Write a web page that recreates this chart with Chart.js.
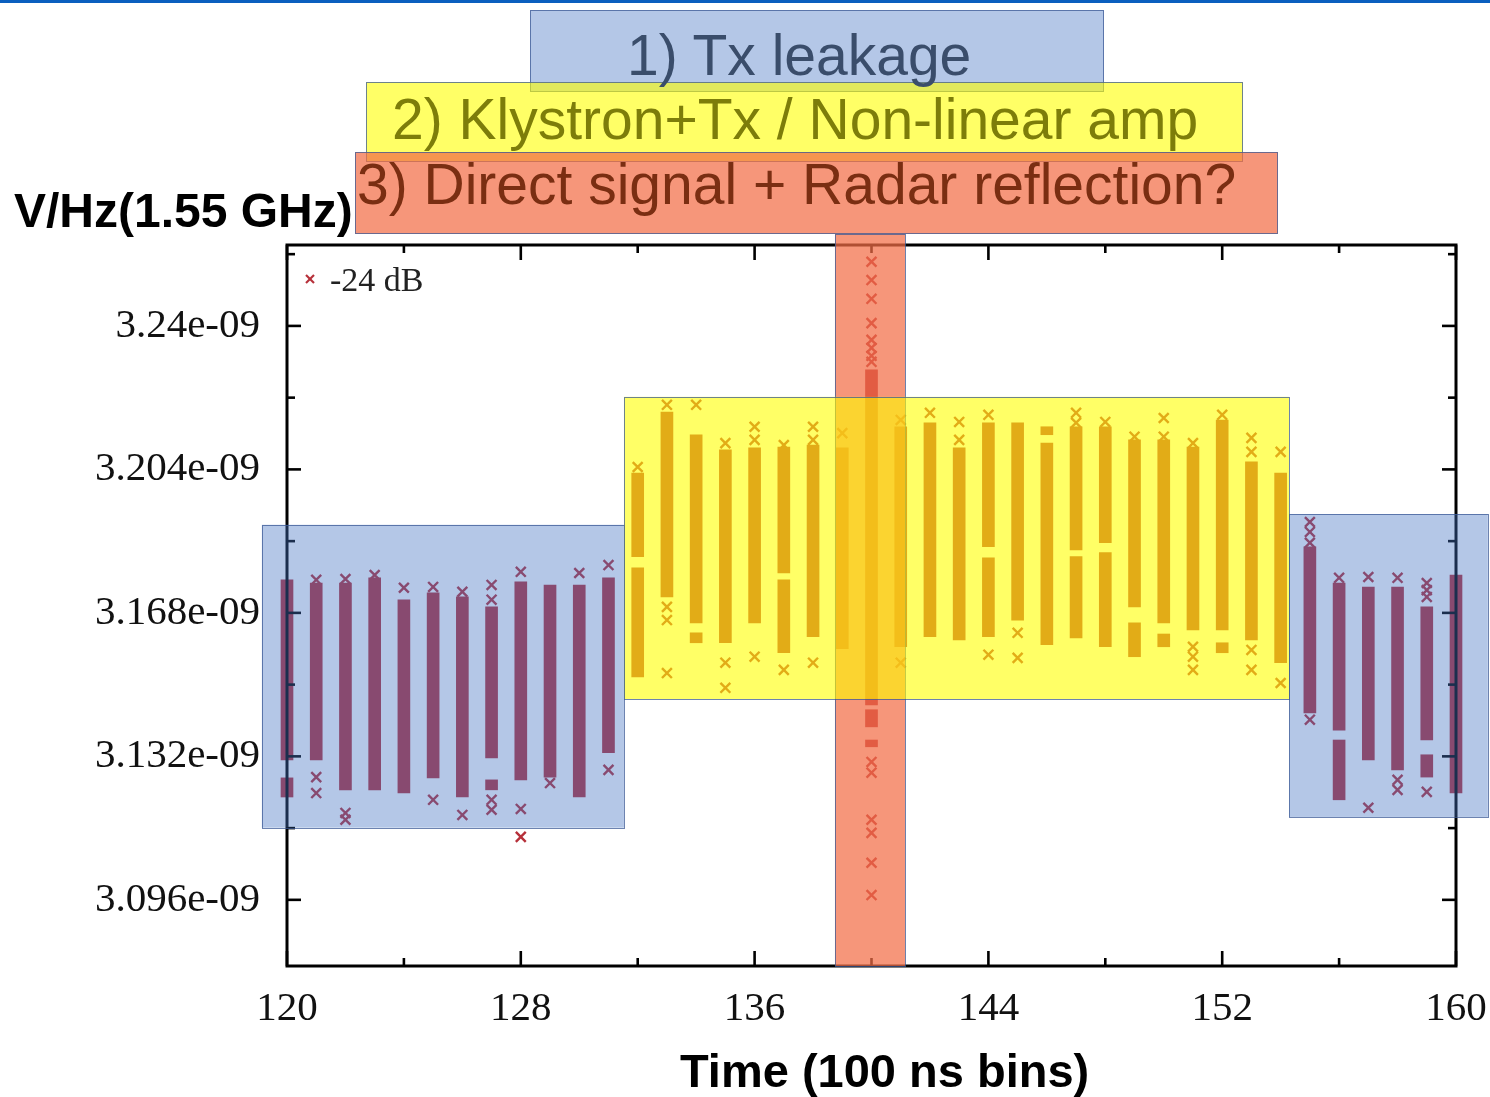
<!DOCTYPE html>
<html><head><meta charset="utf-8">
<script src="https://cdn.jsdelivr.net/npm/chart.js@4.4.1/dist/chart.umd.min.js"></script>
<style>
html,body{margin:0;padding:0;background:#fff;}
#wrap{position:relative;width:1490px;height:1097px;overflow:hidden;background:#fff;}
canvas{position:absolute;left:0;top:0;}
.lbl{position:absolute;white-space:nowrap;font-family:"Liberation Sans",Arial,sans-serif;line-height:1;}
.box{position:absolute;box-sizing:border-box;border:1px solid rgba(60,90,150,0.75);}
</style></head><body>
<div id="wrap">
<canvas id="c" width="1490" height="1097"></canvas>
<div style="position:absolute;left:0;top:0;width:1490px;height:3px;background:#0a5fbf"></div>
<div class="box" style="left:530px;top:10px;width:574px;height:82px;background:rgba(68,114,196,0.4)"></div>
<div class="box" style="left:366px;top:82px;width:877px;height:80px;background:rgba(255,255,0,0.6)"></div>
<div class="box" style="left:355px;top:152px;width:923px;height:82px;background:rgba(242,110,70,0.72)"></div>
<div class="lbl" style="left:627px;top:27px;font-size:57px;color:#3a4d6b">1) Tx leakage</div>
<div class="lbl" style="left:392px;top:91px;font-size:57px;color:#7d7d0a">2) Klystron+Tx / Non-linear amp</div>
<div class="lbl" style="left:357px;top:156px;font-size:57px;color:#7a2e12">3) Direct signal + Radar reflection?</div>
<div class="lbl" style="left:14px;top:187px;font-size:48px;font-weight:bold;color:#000">V/Hz(1.55 GHz)</div>
<div class="lbl" style="left:680px;top:1047px;font-size:47px;font-weight:bold;color:#000">Time (100 ns bins)</div>
</div>
<script>
// ---- data (values in units of 1e-9 V/Hz) ----
const xTickValues = [120, 128, 136, 144, 152, 160];
const xTickLabels = ['120', '128', '136', '144', '152', '160'];
const xMinorTicks = [124, 132, 140, 148, 156];
const yTickValues = [3.096, 3.132, 3.168, 3.204, 3.24];
const yTickLabels = ['3.096e-09', '3.132e-09', '3.168e-09', '3.204e-09', '3.24e-09'];
const yMinorTicks = [3.114, 3.15, 3.186, 3.222, 3.258];
const seriesName = '-24 dB';

// dense runs of points: [time bin, low, high]
const denseRuns = [
  [120, 3.1311, 3.1763], [120, 3.1218, 3.1266],
  [121, 3.1311, 3.1755],
  [122, 3.1236, 3.1755],
  [123, 3.1236, 3.1768],
  [124, 3.1228, 3.1713],
  [125, 3.1266, 3.1730],
  [126, 3.1218, 3.1720],
  [127, 3.1316, 3.1695], [127, 3.1236, 3.1261],
  [128, 3.1261, 3.1758],
  [129, 3.1268, 3.1750],
  [130, 3.1218, 3.1750],
  [131, 3.1329, 3.1768],
  [132, 3.1821, 3.2031], [132, 3.1519, 3.1793],
  [133, 3.1720, 3.2184],
  [134, 3.1655, 3.2127], [134, 3.1605, 3.1630],
  [135, 3.1605, 3.2089],
  [136, 3.1655, 3.2094],
  [137, 3.1780, 3.2096], [137, 3.1580, 3.1763],
  [138, 3.1620, 3.2101],
  [139, 3.1590, 3.2094],
  [140, 3.1449, 3.2290], [140, 3.1394, 3.1437], [140, 3.1344, 3.1361],
  [141, 3.1595, 3.2147],
  [142, 3.1620, 3.2157],
  [143, 3.1612, 3.2094],
  [144, 3.1846, 3.2157], [144, 3.1620, 3.1818],
  [145, 3.1662, 3.2157],
  [146, 3.1600, 3.2106], [146, 3.2127, 3.2147],
  [147, 3.1838, 3.2147], [147, 3.1617, 3.1821],
  [148, 3.1856, 3.2147], [148, 3.1595, 3.1831],
  [149, 3.1695, 3.2114], [149, 3.1570, 3.1655],
  [150, 3.1655, 3.2114], [150, 3.1595, 3.1627],
  [151, 3.1637, 3.2096],
  [152, 3.1637, 3.2164], [152, 3.1580, 3.1605],
  [153, 3.1612, 3.2059],
  [154, 3.1555, 3.2031],
  [155, 3.1429, 3.1846],
  [156, 3.1386, 3.1755], [156, 3.1211, 3.1361],
  [157, 3.1311, 3.1745],
  [158, 3.1286, 3.1745],
  [159, 3.1361, 3.1695], [159, 3.1268, 3.1324],
  [160, 3.1228, 3.1775]
];

// isolated samples: [time bin, value]
const isolatedPoints = [
  [121, 3.1763], [121, 3.1268], [121, 3.1228],
  [122, 3.1765], [122, 3.1178], [122, 3.1161],
  [123, 3.1775],
  [124, 3.1743],
  [125, 3.1745], [125, 3.1211],
  [126, 3.1733], [126, 3.1173],
  [127, 3.1750], [127, 3.1713], [127, 3.1211], [127, 3.1186],
  [128, 3.1783], [128, 3.1188], [128, 3.1118],
  [129, 3.1253],
  [130, 3.1780],
  [131, 3.1800], [131, 3.1286],
  [132, 3.2046],
  [133, 3.2202], [133, 3.1695], [133, 3.1662], [133, 3.1529],
  [134, 3.2202],
  [135, 3.2106], [135, 3.1555], [135, 3.1492],
  [136, 3.2147], [136, 3.2114], [136, 3.1570],
  [137, 3.2101], [137, 3.1537],
  [138, 3.2147], [138, 3.2114], [138, 3.1555],
  [139, 3.2131],
  [140, 3.2561], [140, 3.2515], [140, 3.2468], [140, 3.2407], [140, 3.2365], [140, 3.2345],
  [140, 3.2325], [140, 3.2310], [140, 3.1306], [140, 3.1279], [140, 3.1161], [140, 3.1128],
  [140, 3.1053], [140, 3.0972],
  [141, 3.2164], [141, 3.1555],
  [142, 3.2182],
  [143, 3.2159], [143, 3.2114],
  [144, 3.2177], [144, 3.1575],
  [145, 3.1630], [145, 3.1567],
  [147, 3.2182], [147, 3.2157],
  [148, 3.2159],
  [149, 3.2122],
  [150, 3.2169], [150, 3.2122],
  [151, 3.2106], [151, 3.1595], [151, 3.1570], [151, 3.1537],
  [152, 3.2177],
  [153, 3.2119], [153, 3.2084], [153, 3.1587], [153, 3.1537],
  [154, 3.2084], [154, 3.1504],
  [155, 3.1908], [155, 3.1883], [155, 3.1856], [155, 3.1412],
  [156, 3.1768],
  [157, 3.1770], [157, 3.1191],
  [158, 3.1768], [158, 3.1261], [158, 3.1236],
  [159, 3.1755], [159, 3.1737], [159, 3.1720], [159, 3.1231]
];

// highlighted regions in data units (annotations)
const regionX0 = [119.14, 154.29, 138.75, 131.53];
const regionX1 = [131.53, 161.09, 141.15, 154.29];
const regionY0 = [3.1141, 3.1168, 3.0794, 3.1464];
const regionY1 = [3.1901, 3.1928, 3.2631, 3.2222];
const regionFill = ['rgba(68,114,196,0.4)', 'rgba(68,114,196,0.4)', 'rgba(242,110,70,0.72)', 'rgba(255,255,0,0.6)'];

const markColor = 'rgb(182,48,58)';

const overlayPlugin = {
  id: 'overlayPlugin',
  afterDatasetsDraw(chart) {
    const {ctx, chartArea: a, scales: {x, y}} = chart;
    const line = (x1, y1, x2, y2) => { ctx.beginPath(); ctx.moveTo(x1, y1); ctx.lineTo(x2, y2); ctx.stroke(); };
    ctx.save();
    ctx.strokeStyle = '#000';
    ctx.lineWidth = 3;
    ctx.strokeRect(a.left, a.top, a.right - a.left, a.bottom - a.top);
    ctx.lineWidth = 2.6;
    const xt = (vals, len) => vals.forEach(v => {
      const px = x.getPixelForValue(v);
      line(px, a.bottom, px, a.bottom - len);
      line(px, a.top, px, a.top + len);
    });
    const yt = (vals, len) => vals.forEach(v => {
      const py = y.getPixelForValue(v);
      line(a.left, py, a.left + len, py);
      line(a.right, py, a.right - len, py);
    });
    xt(xTickValues, 15); xt(xMinorTicks, 8);
    yt(yTickValues, 14); yt(yMinorTicks, 8);
    for (let i = 0; i < regionX0.length; i++) {
      const l = x.getPixelForValue(regionX0[i]), r = x.getPixelForValue(regionX1[i]);
      const t = y.getPixelForValue(regionY1[i]), b = y.getPixelForValue(regionY0[i]);
      ctx.fillStyle = regionFill[i];
      ctx.fillRect(l, t, r - l, b - t);
      ctx.strokeStyle = 'rgba(60,90,150,0.75)';
      ctx.lineWidth = 1;
      ctx.strokeRect(Math.round(l) + 0.5, Math.round(t) + 0.5, Math.round(r - l), Math.round(b - t));
    }
    const lx = a.left + 23, ly = a.top + 34;
    ctx.strokeStyle = markColor;
    ctx.lineWidth = 2.2;
    line(lx - 4, ly - 4, lx + 4, ly + 4);
    line(lx - 4, ly + 4, lx + 4, ly - 4);
    ctx.fillStyle = '#222';
    ctx.font = '34px "Liberation Serif", "Times New Roman", serif';
    ctx.textBaseline = 'alphabetic';
    ctx.fillText(seriesName, lx + 20, ly + 12);
    ctx.restore();
  }
};

new Chart(document.getElementById('c'), {
  type: 'bar',
  data: {
    datasets: [
      {
        type: 'bar',
        label: seriesName,
        data: denseRuns.map(r => ({x: r[0], y: [r[1], r[2]]})),
        backgroundColor: markColor,
        borderWidth: 0,
        barThickness: 12,
        grouped: false,
        clip: false
      },
      {
        type: 'scatter',
        label: seriesName,
        data: isolatedPoints.map(p => ({x: p[0], y: p[1]})),
        pointStyle: 'crossRot',
        pointRadius: 7,
        borderWidth: 2.4,
        borderColor: markColor,
        backgroundColor: markColor,
        showLine: false,
        clip: false
      }
    ]
  },
  options: {
    responsive: false,
    devicePixelRatio: 1,
    animation: false,
    events: [],
    layout: {padding: {top: 245, right: 34, left: 0, bottom: 0}},
    plugins: {legend: {display: false}, tooltip: {enabled: false}},
    scales: {
      x: {
        type: 'linear', min: 120, max: 160, offset: false,
        grid: {display: false, drawTicks: false},
        border: {display: false},
        afterBuildTicks: s => { s.ticks = xTickValues.map(v => ({value: v})); },
        afterFit: s => { s.height = 131; s.paddingLeft = 0; s.paddingRight = 0; },
        ticks: {
          autoSkip: false, maxRotation: 0, padding: 19, color: '#111',
          font: {family: '"Liberation Serif", "Times New Roman", serif', size: 41},
          callback: (v, i) => xTickLabels[i]
        }
      },
      y: {
        type: 'linear', min: 3.0794, max: 3.2603,
        grid: {display: false, drawTicks: false},
        border: {display: false},
        afterBuildTicks: s => { s.ticks = yTickValues.map(v => ({value: v})); },
        afterFit: s => { s.width = 287; s.paddingTop = 0; s.paddingBottom = 0; },
        ticks: {
          autoSkip: false, padding: 27, color: '#111',
          font: {family: '"Liberation Serif", "Times New Roman", serif', size: 41},
          callback: (v, i) => yTickLabels[i]
        }
      }
    }
  },
  plugins: [overlayPlugin]
});
</script>
</body></html>
